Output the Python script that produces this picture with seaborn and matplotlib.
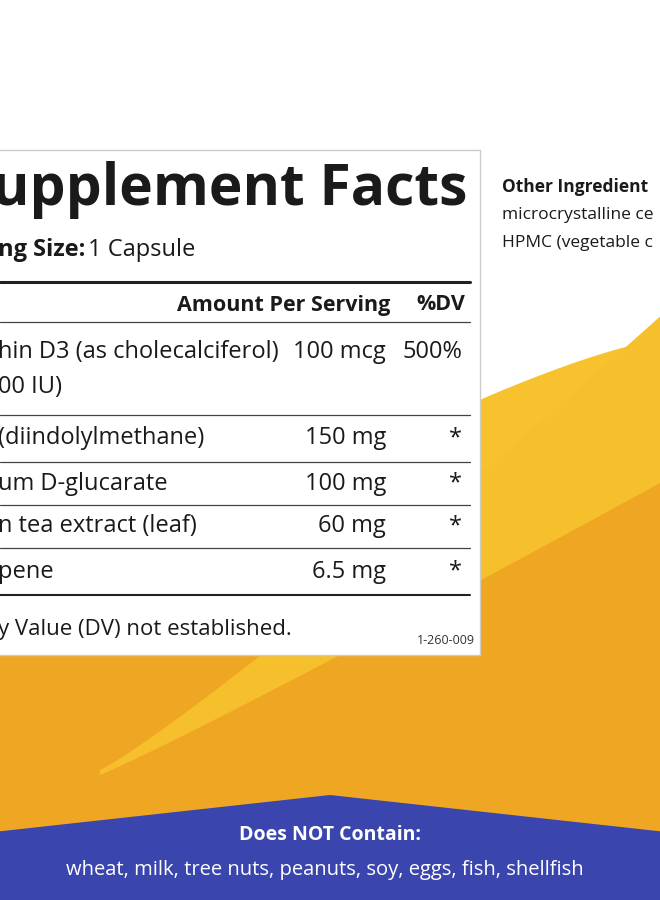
import numpy as np
import seaborn as sns
import matplotlib.pyplot as plt
from matplotlib.patches import Rectangle, Polygon

sns.set_theme(style="white")
plt.rcParams['font.family'] = ['Open Sans', 'DejaVu Sans']

ingredients = ["hin D3 (as cholecalciferol)", "(diindolylmethane)", "um D-glucarate",
               "n tea extract (leaf)", "pene"]
sub_lines = ["00 IU)", "", "", "", ""]
amounts = ["100 mcg", "150 mg", "100 mg", "60 mg", "6.5 mg"]
dv = ["500%", "*", "*", "*", "*"]
row_tops = [322, 415, 462, 505, 548]
row_bottoms = [415, 462, 505, 548, 595]
free_of = "wheat, milk, tree nuts, peanuts, soy, eggs, fish, shellfish"
other_lines = ["microcrystalline ce", "HPMC (vegetable c"]

fig = plt.figure(figsize=(6.6, 9), dpi=100)
ax = fig.add_axes([0, 0, 1, 1])
ax.set_xlim(0, 660)
ax.set_ylim(900, 0)
ax.axis('off')

# background swooshes
x = np.linspace(0, 660, 200)
top_curve = 340 + (660 - x) ** 1.3 * 0.07
ax.add_patch(Polygon(np.column_stack([np.r_[x, 660, 0], np.r_[top_curve, 900, 900]]),
                     color='#f8c22e', lw=0))
orange_curve = 470 + (660 - x) * 0.28
ax.add_patch(Polygon(np.column_stack([np.r_[x, 660, 0], np.r_[orange_curve, 900, 900]]),
                     color='#eea623', lw=0))
arc_x = np.linspace(100, 660, 200)
arc_top = 770 - (arc_x - 100) ** 1.1 * 0.43
arc_bot = 775 - (arc_x - 100) ** 1.05 * 0.38
ax.add_patch(Polygon(np.column_stack([np.r_[arc_x, arc_x[::-1]], np.r_[arc_top, arc_bot[::-1]]]),
                     color='#f6bf2c', lw=0))

# blue band
bx = np.linspace(0, 660, 200)
btop = 795 + np.abs(bx - 330) * 0.11
ax.add_patch(Polygon(np.column_stack([np.r_[bx, 660, 0], np.r_[btop, 900, 900]]),
                     color='#3a45ae', lw=0))
ax.text(330, 835, "Does NOT Contain:", color='white', fontsize=14, fontweight='bold',
        ha='center', va='center')
ax.text(325, 870, free_of, color='white', fontsize=14.5, ha='center', va='center')

# label box
ax.add_patch(Rectangle((-5, 150), 485, 505, facecolor='white', edgecolor='#cccccc', lw=1))
ax.text(467, 190, "upplement Facts", fontsize=41, fontweight='bold', ha='right',
        va='center', color='#1a1a1a')
ax.text(-2, 250, "ng Size:", fontsize=17, fontweight='bold', ha='left', va='center', color='#1a1a1a')
ax.text(88, 250, "1 Capsule", fontsize=17, ha='left', va='center', color='#1a1a1a')
ax.plot([0, 470], [282, 282], color='#222222', lw=2.2)
ax.text(390, 305, "Amount Per Serving", fontsize=15.5, fontweight='bold', ha='right', va='center',
        color='#1a1a1a')
ax.text(465, 305, "%DV", fontsize=15.5, fontweight='bold', ha='right', va='center', color='#1a1a1a')

for name, sub, amt, d, t, b in zip(ingredients, sub_lines, amounts, dv, row_tops, row_bottoms):
    ax.plot([0, 470], [t, t], color='#444444', lw=0.9)
    y = t + 30 if sub else (t + b) / 2
    ax.text(-2, y, name, fontsize=17, ha='left', va='center', color='#1a1a1a')
    ax.text(386, y, amt, fontsize=17, ha='right', va='center', color='#1a1a1a')
    ax.text(462, y, d, fontsize=17, ha='right', va='center', color='#1a1a1a')
    if sub:
        ax.text(-2, y + 35, sub, fontsize=17, ha='left', va='center', color='#1a1a1a')
ax.plot([0, 470], [595, 595], color='#222222', lw=1.5)
ax.text(-2, 630, "y Value (DV) not established.", fontsize=16, ha='left', va='center',
        color='#1a1a1a')
ax.text(475, 641, "1-260-009", fontsize=9, ha='right', va='center', color='#333333')

# other ingredients
ax.text(502, 187, "Other Ingredient", fontsize=12.5, fontweight='bold', ha='left', va='center',
        color='#1a1a1a')
for i, line in enumerate(other_lines):
    ax.text(502, 215 + 28 * i, line, fontsize=12.5, ha='left', va='center', color='#1a1a1a')

fig.savefig('out.png', dpi=100)
